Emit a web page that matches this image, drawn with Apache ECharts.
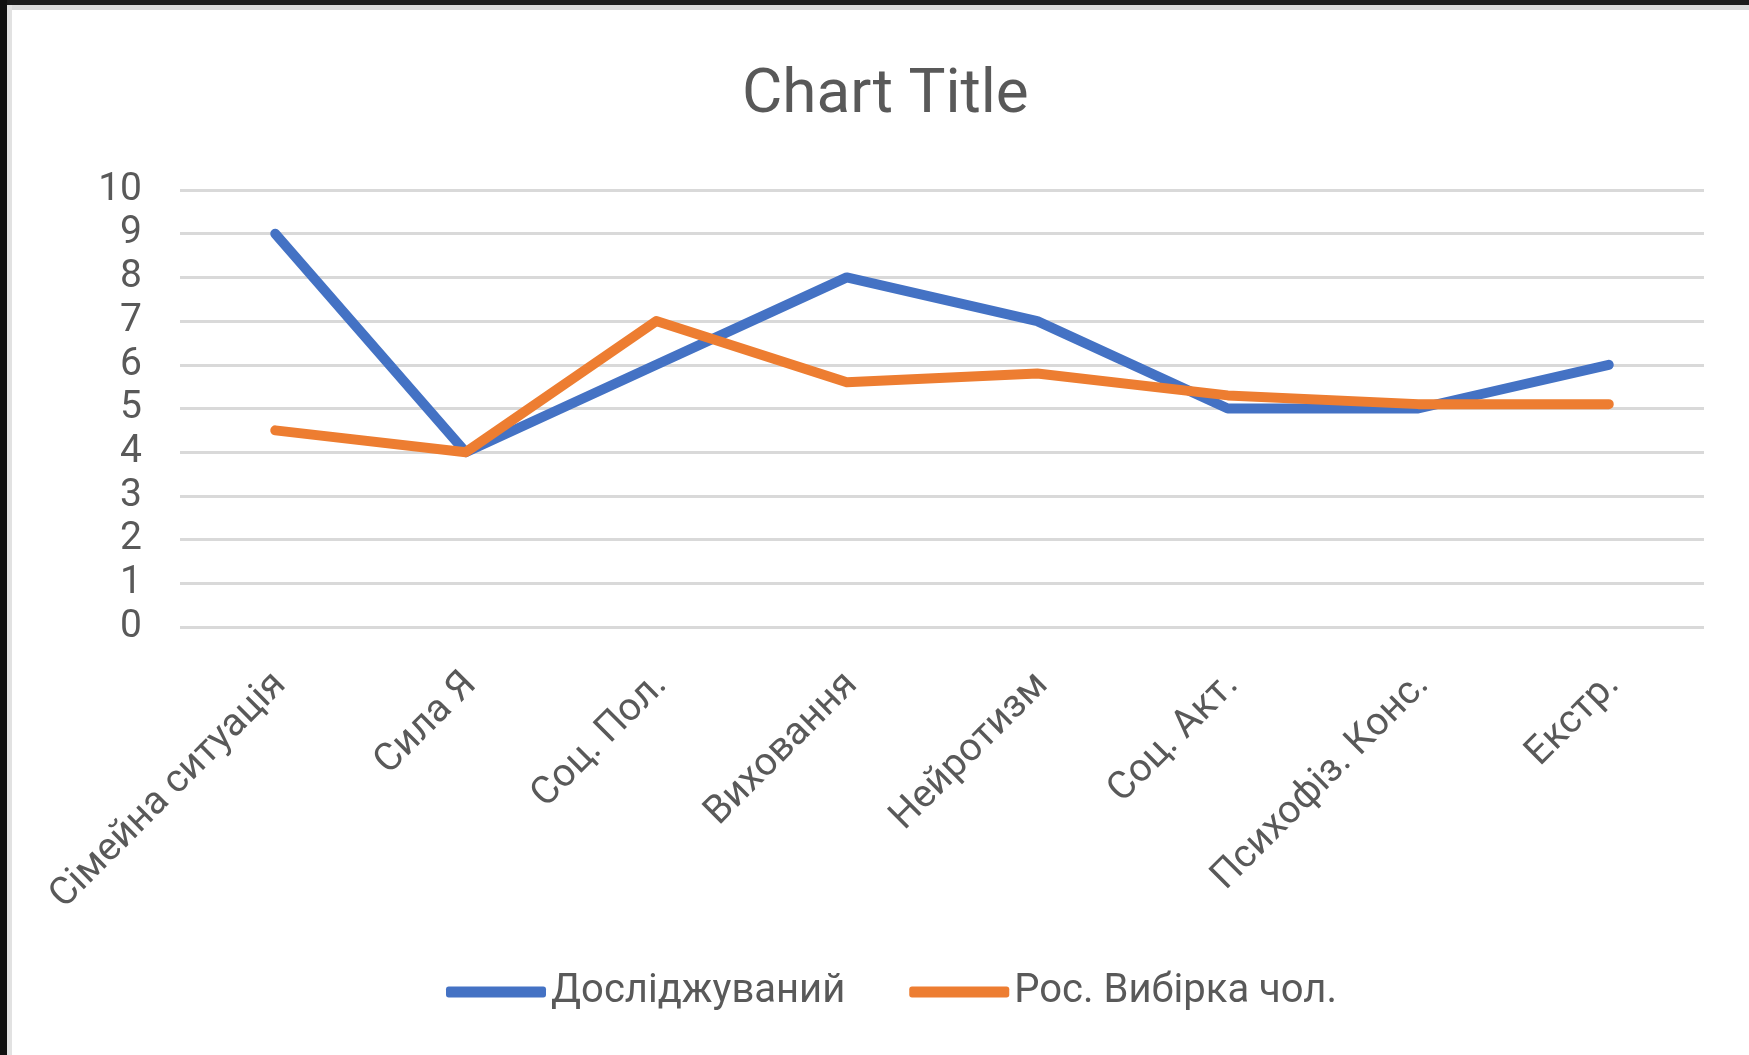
<!DOCTYPE html>
<html>
<head>
<meta charset="utf-8">
<script src="https://cdn.jsdelivr.net/npm/echarts@6/dist/echarts.min.js"></script>
<style>
  html, body { margin: 0; padding: 0; background: #ffffff; }
  #chart { width: 1749px; height: 1055px; }
</style>
</head>
<body>
<div id="chart"></div>
<script>
const categories = ['Сімейна ситуація', 'Сила Я', 'Соц. Пол.', 'Виховання', 'Нейротизм', 'Соц. Акт.', 'Психофіз. Конс.', 'Екстр.'];
const seriesNames = ['Досліджуваний', 'Рос. Вибірка чол.'];
const studied = [9, 4, 6, 8, 7, 5, 5, 6];
const rusSample = [4.5, 4.0, 7.0, 5.6, 5.8, 5.3, 5.1, 5.1];
const yTicks = { min: 0, max: 10, interval: 1 };

const FONT = 'Roboto';
const TEXT = '#595959';

const chart = echarts.init(document.getElementById('chart'), null, { renderer: 'canvas' });
chart.setOption({
  backgroundColor: '#ffffff',
  animation: false,
  title: {
    text: 'Chart Title',
    left: 742,
    top: 65,
    padding: 0,
    textStyle: { fontFamily: FONT, fontSize: 62, fontWeight: 'normal', color: TEXT }
  },
  legend: {
    data: seriesNames,
    left: 441,
    top: 964,
    padding: 5,
    itemGap: 64,
    itemWidth: 100,
    itemHeight: 11,
    icon: 'roundRect',
    textStyle: { fontFamily: FONT, fontSize: 40, color: TEXT, lineHeight: 46 }
  },
  grid: { left: 180, right: 45, top: 190, bottom: 428, containLabel: false },
  xAxis: {
    type: 'category',
    data: categories,
    boundaryGap: true,
    axisLine: { show: false },
    axisTick: { show: false },
    axisLabel: { rotate: 45, margin: 57, padding: [0, -7, 0, 0], fontFamily: FONT, fontSize: 39, color: TEXT, interval: 0 }
  },
  yAxis: {
    type: 'value',
    min: yTicks.min,
    max: yTicks.max,
    interval: yTicks.interval,
    axisLine: { show: false },
    axisTick: { show: false },
    axisLabel: { margin: 38, fontFamily: FONT, fontSize: 39, color: TEXT },
    splitLine: { lineStyle: { color: '#d9d9d9', width: 3 } }
  },
  series: [
    {
      name: seriesNames[0], type: 'line', data: studied, symbol: 'none',
      itemStyle: { color: '#4472C4' },
      lineStyle: { width: 10, color: '#4472C4', cap: 'round', join: 'round' }
    },
    {
      name: seriesNames[1], type: 'line', data: rusSample, symbol: 'none',
      itemStyle: { color: '#ED7D31' },
      lineStyle: { width: 10, color: '#ED7D31', cap: 'round', join: 'round' }
    }
  ],
  graphic: [
    { type: 'rect', shape: { x: 0, y: 5, width: 1749, height: 5 }, style: { fill: '#dadada' }, silent: true },
    { type: 'rect', shape: { x: 7, y: 0, width: 5, height: 1055 }, style: { fill: '#e2e2e2' }, silent: true },
    { type: 'rect', shape: { x: 0, y: 0, width: 1749, height: 5 }, style: { fill: '#1c1c1c' }, silent: true },
    { type: 'rect', shape: { x: 0, y: 0, width: 7, height: 1055 }, style: { fill: '#111111' }, silent: true }
  ]
});
</script>
</body>
</html>
